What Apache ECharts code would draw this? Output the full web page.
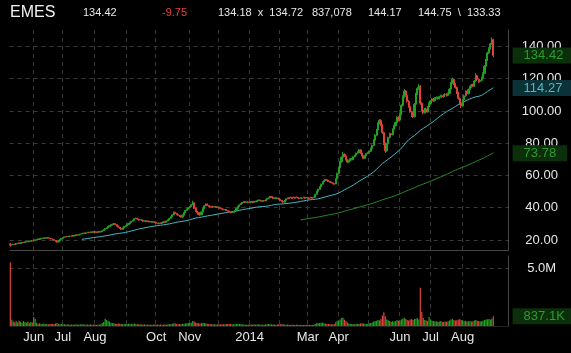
<!DOCTYPE html>
<html>
<head>
<meta charset="utf-8">
<script src="https://cdn.jsdelivr.net/npm/echarts@6/dist/echarts.min.js"></script>
<style>
  html, body { margin: 0; padding: 0; background: #000; }
  #chart { width: 571px; height: 353px; }
</style>
</head>
<body>
<div id="chart"></div>
<script>
// EMES daily bars, 2013-05-09 .. 2014-09-02 (one row per month in each array)
const opens = [
  17.6, 16.9, 17.1, 17.5, 17.3, 17.7, 18.1, 17.9, 18.2, 18.5, 18.4, 18.8, 19.1, 18.9, 19.2, 19.6,
  19.4, 19.8, 20.1, 20.5, 20.3, 20.7, 20.9, 21.0, 21.3, 21.1, 21.5, 21.2, 21.0, 20.6, 20.2, 19.8, 19.3, 18.8, 19.6, 20.4,
  21.0, 21.5, 21.9, 22.2, 22.0, 22.4, 22.3, 22.6, 22.5, 22.9, 23.2, 23.0, 23.4, 23.7, 24.0, 24.3, 24.1, 24.5, 24.8, 24.6, 25.0, 24.8,
  25.1, 25.0, 24.7, 25.2, 24.9, 25.3, 25.8, 26.4, 27.1, 27.6, 28.3, 28.9, 29.4, 29.8, 30.1, 29.5, 28.7, 27.9, 27.2, 26.6, 27.4, 28.3,
  28.9, 29.5, 30.2, 31.0, 31.6, 32.3, 33.2, 33.5, 32.9, 32.4, 32.6, 32.1, 31.6, 31.9, 31.4, 31.7, 31.2, 31.5, 31.0, 31.3,
  30.8, 30.4, 30.1, 30.6, 30.3, 30.9, 31.3, 31.0, 31.8, 32.5, 33.4, 34.4, 35.6, 37.2, 36.5, 35.8, 35.3, 34.6, 34.2, 35.4, 36.9, 38.4, 39.2,
  40.0, 40.8, 41.9, 43.0, 39.6, 37.8, 37.0, 35.9, 35.6, 37.4, 39.5, 41.2, 42.3, 41.5, 40.8, 40.4, 40.9, 40.5, 40.7, 40.2,
  40.4, 40.0, 39.5, 39.1, 38.7, 38.9, 38.2, 37.8, 37.3, 36.9, 37.2, 37.6, 38.4, 39.6, 40.8, 41.8, 42.6, 43.3, 43.8, 43.2, 43.6,
  43.1, 43.5, 43.9, 43.4, 44.0, 43.7, 44.3, 44.8, 44.4, 44.0, 44.5, 44.2, 45.0, 45.8, 46.5, 46.9, 46.3, 45.8, 46.2, 45.6, 46.0,
  45.2, 44.5, 43.8, 43.4, 44.6, 45.5, 46.1, 46.5, 46.2, 46.6, 46.3, 46.7, 46.4, 46.0, 45.7, 46.1, 46.6, 46.3, 46.2,
  46.4, 46.0, 46.5, 46.3, 46.2, 46.6, 48.3, 50.2, 51.4, 53.0, 54.6, 56.2, 56.8, 57.4, 56.9, 56.3, 55.9, 55.5, 55.0, 54.8, 57.8,
  61.3, 64.8, 68.5, 71.3, 73.2, 72.0, 69.8, 68.3, 69.2, 70.4, 69.8, 71.6, 72.5, 73.8, 74.6, 75.8, 74.0, 72.2, 70.6, 72.4, 73.6,
  74.2, 75.0, 76.8, 78.6, 81.9, 85.0, 88.2, 92.4, 94.1, 91.2, 86.5, 79.8, 75.2, 79.6, 83.5, 85.9, 85.2, 88.6, 90.9, 92.8, 96.0,
  94.3, 97.8, 103.5, 108.9, 112.4, 109.6, 106.0, 102.8, 99.5, 97.0, 96.4, 104.2, 110.5, 114.0, 115.3, 104.8, 100.6, 98.9, 101.2, 99.3, 102.4,
  104.6, 106.2, 107.4, 106.3, 107.9, 108.4, 107.6, 108.8, 109.5, 108.7, 109.9, 110.4, 109.6, 110.8, 113.5, 117.2, 119.6, 116.8, 114.5, 111.2, 107.8, 104.5,
  103.2, 107.0, 109.4, 112.0, 110.8, 113.2, 114.9, 116.1, 115.4, 118.6, 121.8, 119.6, 118.2, 119.0, 120.6, 123.3, 127.8, 131.6, 136.0, 138.7, 141.6, 144.0
];
const closes = [
  16.8, 17.1, 17.4, 17.3, 17.7, 18.0, 17.9, 18.2, 18.5, 18.4, 18.8, 19.0, 18.9, 19.2, 19.5, 19.4,
  19.8, 20.1, 20.4, 20.3, 20.7, 20.9, 21.0, 21.3, 21.1, 21.4, 21.2, 21.0, 20.6, 20.2, 19.8, 19.2, 18.7, 19.6, 20.4, 21.0,
  21.5, 21.9, 22.2, 22.0, 22.4, 22.3, 22.6, 22.5, 22.9, 23.2, 23.0, 23.4, 23.7, 24.0, 24.3, 24.1, 24.5, 24.8, 24.6, 25.0, 24.8, 25.1,
  25.0, 24.7, 25.2, 24.9, 25.3, 25.8, 26.4, 27.1, 27.6, 28.3, 28.9, 29.4, 29.8, 30.1, 29.5, 28.7, 27.9, 27.2, 26.6, 27.4, 28.3, 28.9,
  29.5, 30.2, 31.0, 31.6, 32.3, 33.2, 33.5, 32.9, 32.4, 32.6, 32.1, 31.6, 31.9, 31.4, 31.7, 31.2, 31.5, 31.0, 31.3, 30.8,
  30.4, 30.1, 30.6, 30.3, 30.9, 31.3, 31.0, 31.8, 32.5, 33.4, 34.4, 35.6, 37.2, 36.5, 35.8, 35.3, 34.6, 34.2, 35.4, 36.9, 38.4, 39.2, 40.0,
  40.8, 41.9, 43.2, 39.6, 37.8, 37.0, 35.9, 35.6, 37.4, 39.5, 41.2, 42.3, 41.5, 40.8, 40.4, 40.9, 40.5, 40.7, 40.2, 40.4,
  40.0, 39.5, 39.1, 38.7, 38.9, 38.2, 37.8, 37.3, 36.9, 37.2, 37.6, 38.4, 39.6, 40.8, 41.8, 42.6, 43.3, 43.8, 43.2, 43.6, 43.1,
  43.5, 43.9, 43.4, 44.0, 43.7, 44.3, 44.8, 44.4, 44.0, 44.5, 44.2, 45.0, 45.8, 46.5, 46.9, 46.3, 45.8, 46.2, 45.6, 46.0, 45.2,
  44.5, 43.8, 43.4, 44.6, 45.5, 46.1, 45.7, 46.2, 45.8, 46.3, 45.9, 46.4, 46.0, 45.7, 46.2, 45.8, 46.3, 45.9, 46.4,
  46.0, 45.6, 46.2, 45.9, 46.5, 48.3, 50.2, 51.4, 53.0, 54.6, 56.2, 56.8, 57.4, 56.9, 56.3, 55.9, 55.5, 55.0, 54.6, 57.8, 61.3,
  64.8, 68.5, 71.3, 73.2, 72.0, 69.8, 68.3, 69.2, 70.4, 69.8, 71.6, 72.5, 73.8, 74.6, 75.8, 74.0, 72.2, 70.6, 72.4, 73.6, 74.2,
  75.0, 76.8, 78.6, 81.9, 85.0, 88.2, 92.4, 94.1, 91.2, 86.5, 79.8, 75.2, 79.6, 83.5, 85.9, 85.2, 88.6, 90.9, 92.8, 96.0, 94.3,
  97.8, 103.5, 108.9, 112.4, 109.6, 106.0, 102.8, 99.5, 97.0, 96.4, 104.2, 110.5, 114.0, 115.3, 104.8, 100.6, 98.9, 101.2, 99.3, 102.4, 104.6,
  106.2, 107.4, 106.3, 107.9, 108.4, 107.6, 108.8, 109.5, 108.7, 109.9, 110.4, 109.6, 110.8, 113.5, 117.2, 119.6, 116.8, 114.5, 111.2, 107.8, 104.5, 103.2,
  107.0, 109.4, 112.0, 110.8, 113.2, 114.9, 116.1, 115.4, 118.6, 121.8, 119.6, 118.2, 119.0, 120.6, 123.3, 127.8, 131.6, 136.0, 138.7, 141.6, 144.17, 134.42
];
const lows = [
  15.9, 16.7, 16.9, 17.1, 17.1, 17.5, 17.7, 17.7, 18.0, 18.2, 18.2, 18.6, 18.7, 18.7, 19.0, 19.1,
  19.2, 19.6, 19.9, 20.1, 20.1, 20.5, 20.7, 20.8, 20.9, 20.9, 21.0, 20.8, 20.4, 20.0, 19.6, 18.9, 18.3, 18.6, 19.4, 20.2,
  20.9, 21.3, 21.7, 21.8, 21.9, 22.1, 22.2, 22.3, 22.4, 22.8, 22.8, 22.9, 23.3, 23.6, 23.9, 23.9, 24.0, 24.4, 24.4, 24.5, 24.6, 24.7,
  24.7, 24.4, 24.5, 24.7, 24.7, 25.1, 25.6, 26.2, 26.9, 27.4, 28.0, 28.6, 29.1, 29.5, 29.2, 28.4, 27.6, 26.9, 26.2, 26.4, 27.2, 28.0,
  28.7, 29.3, 30.0, 30.8, 31.4, 32.1, 32.9, 32.6, 32.1, 32.2, 31.8, 31.3, 31.4, 31.1, 31.2, 31.0, 31.0, 30.8, 30.8, 30.5,
  30.1, 29.8, 29.9, 30.0, 30.1, 30.7, 30.7, 30.8, 31.6, 32.3, 33.2, 34.2, 35.4, 36.2, 35.5, 35.0, 34.3, 33.9, 34.0, 35.2, 36.7, 38.1, 38.9,
  39.8, 40.5, 41.6, 39.2, 37.4, 36.6, 35.6, 35.0, 35.4, 37.2, 39.3, 40.9, 41.2, 40.5, 40.1, 40.2, 40.2, 40.3, 40.0, 40.0,
  39.8, 39.3, 38.9, 38.5, 38.5, 38.0, 37.6, 37.1, 36.6, 36.7, 37.0, 37.4, 38.2, 39.4, 40.6, 41.6, 42.4, 43.0, 42.9, 43.0, 42.9,
  42.9, 43.3, 43.2, 43.2, 43.5, 43.5, 44.1, 44.2, 43.8, 43.8, 44.0, 44.0, 44.8, 45.6, 46.3, 46.1, 45.6, 45.6, 45.4, 45.4, 45.0,
  44.3, 43.6, 43.1, 43.3, 44.4, 45.3, 45.5, 46.0, 45.6, 46.1, 45.7, 46.2, 45.8, 45.5, 45.5, 45.6, 46.1, 45.7, 46.0,
  45.8, 45.3, 45.9, 45.6, 46.0, 46.4, 48.0, 49.9, 51.1, 52.7, 54.3, 55.8, 56.5, 56.6, 56.0, 55.6, 55.2, 54.7, 54.2, 54.6, 57.5,
  60.9, 64.3, 67.9, 70.8, 71.5, 69.3, 67.6, 67.9, 68.8, 69.3, 69.5, 71.2, 72.1, 73.3, 74.2, 73.6, 71.8, 70.1, 70.3, 72.0, 73.2,
  73.6, 74.5, 76.3, 78.2, 81.4, 84.4, 87.8, 91.6, 90.5, 85.8, 78.9, 74.0, 74.8, 79.0, 83.0, 84.5, 84.8, 88.0, 90.3, 92.3, 93.6,
  93.8, 97.2, 102.8, 108.2, 108.8, 105.2, 102.0, 98.8, 96.2, 95.6, 96.0, 103.5, 109.8, 113.2, 103.8, 99.8, 98.0, 98.4, 98.6, 99.0, 102.0,
  104.0, 105.6, 105.7, 105.9, 107.3, 107.0, 107.2, 108.3, 108.1, 108.4, 109.4, 109.0, 109.2, 110.4, 113.0, 116.7, 116.0, 113.8, 110.5, 107.0, 103.7, 101.8,
  102.6, 106.3, 108.8, 110.1, 110.3, 112.6, 114.3, 114.8, 115.0, 118.0, 119.0, 117.5, 117.7, 118.5, 120.0, 122.8, 127.2, 131.0, 135.3, 138.0, 141.0, 133.33
];
const highs = [
  18.0, 17.3, 17.6, 17.7, 17.9, 18.2, 18.3, 18.4, 18.7, 18.7, 19.0, 19.2, 19.3, 19.4, 19.7, 19.8,
  20.0, 20.3, 20.6, 20.7, 20.9, 21.1, 21.3, 21.6, 21.5, 21.6, 21.7, 21.4, 21.2, 20.8, 20.4, 20.0, 19.5, 19.8, 20.6, 21.2,
  21.7, 22.1, 22.4, 22.3, 22.6, 22.6, 22.8, 22.8, 23.1, 23.4, 23.3, 23.6, 23.9, 24.2, 24.5, 24.5, 24.7, 25.0, 25.0, 25.2, 25.1, 25.3,
  25.4, 25.2, 25.4, 25.4, 25.5, 26.0, 26.7, 27.4, 27.9, 28.6, 29.2, 29.7, 30.1, 30.5, 30.4, 29.7, 28.9, 28.1, 27.4, 27.7, 28.6, 29.2,
  29.7, 30.4, 31.3, 31.8, 32.5, 33.5, 33.9, 33.7, 33.1, 32.8, 32.8, 32.3, 32.1, 32.0, 31.9, 31.9, 31.7, 31.7, 31.5, 31.5,
  31.0, 30.6, 30.8, 30.8, 31.1, 31.5, 31.5, 32.0, 32.7, 33.7, 34.6, 35.9, 37.6, 37.5, 36.8, 36.1, 35.5, 34.9, 35.7, 37.1, 38.7, 39.5, 40.3,
  41.0, 42.2, 44.4, 43.2, 39.9, 38.1, 37.2, 36.2, 37.6, 39.7, 41.4, 42.6, 42.5, 41.7, 41.0, 41.1, 41.1, 40.9, 40.9, 40.6,
  40.6, 40.2, 39.7, 39.3, 39.1, 39.1, 38.4, 38.0, 37.5, 37.4, 37.8, 38.6, 39.8, 41.0, 42.0, 42.8, 43.5, 44.0, 44.0, 43.8, 43.8,
  43.7, 44.1, 44.1, 44.2, 44.2, 44.5, 45.0, 45.0, 44.6, 44.7, 44.7, 45.2, 46.0, 46.7, 47.2, 47.1, 46.5, 46.4, 46.4, 46.2, 46.2,
  45.4, 44.7, 44.0, 44.8, 45.7, 46.3, 46.3, 46.7, 46.4, 46.8, 46.5, 46.9, 46.6, 46.2, 46.4, 46.3, 46.8, 46.5, 46.6,
  46.6, 46.2, 46.8, 46.5, 46.8, 48.6, 50.5, 51.8, 53.3, 54.9, 56.5, 57.2, 57.8, 57.7, 57.2, 56.6, 56.2, 55.8, 55.3, 58.2, 61.8,
  65.3, 69.0, 71.8, 74.6, 73.7, 72.4, 70.2, 69.7, 70.9, 70.8, 72.0, 72.9, 74.2, 75.1, 76.4, 76.2, 74.4, 72.6, 72.8, 74.0, 74.7,
  75.5, 77.3, 79.2, 82.5, 85.6, 88.9, 93.0, 95.0, 94.8, 91.8, 87.2, 80.5, 80.2, 84.1, 86.6, 86.4, 89.2, 91.5, 93.4, 96.7, 96.8,
  98.5, 104.2, 109.6, 113.6, 113.0, 110.4, 106.7, 103.5, 100.2, 97.8, 105.0, 111.2, 114.8, 116.6, 116.0, 105.5, 101.4, 101.9, 102.0, 103.1, 105.3,
  106.8, 108.0, 108.0, 108.5, 109.0, 108.9, 109.4, 110.1, 110.0, 110.4, 111.0, 110.9, 111.4, 114.1, 117.9, 120.6, 120.0, 117.4, 115.2, 111.9, 108.4, 105.4,
  107.6, 110.1, 112.7, 112.6, 113.9, 115.6, 116.8, 116.8, 119.2, 123.4, 122.4, 120.2, 119.7, 121.3, 124.0, 128.5, 132.3, 136.7, 139.4, 142.3, 145.6, 144.75
];
// volume in thousands of shares
const volumesK = [
  5500, 560, 380, 330, 420, 300, 450, 360, 280, 420, 330, 300, 380, 260, 340, 300,
  780, 620, 280, 200, 230, 180, 160, 200, 150, 170, 140, 160, 190, 180, 150, 220, 260, 180, 140, 170,
  160, 150, 130, 120, 140, 110, 130, 100, 120, 140, 110, 130, 120, 150, 140, 110, 130, 120, 100, 140, 110, 120,
  120, 100, 110, 130, 160, 250, 350, 620, 520, 430, 380, 280, 250, 240, 200, 180, 210, 190, 170, 150, 180, 160,
  170, 200, 180, 190, 160, 210, 180, 150, 140, 160, 130, 120, 140, 110, 120, 130, 100, 110, 120, 130,
  110, 120, 100, 130, 110, 120, 140, 110, 150, 160, 180, 200, 230, 210, 180, 160, 170, 150, 190, 200, 220, 240, 250,
  260, 280, 420, 380, 300, 260, 240, 220, 250, 270, 260, 230, 190, 170, 150, 160, 140, 150, 130, 140,
  140, 130, 150, 160, 130, 170, 180, 160, 200, 150, 140, 160, 180, 190, 170, 160, 150, 120, 110, 100, 120,
  120, 130, 110, 140, 120, 130, 150, 120, 110, 130, 100, 140, 160, 170, 150, 140, 120, 130, 110, 120, 140,
  150, 160, 140, 120, 110, 130, 100, 90, 110, 100, 90, 100, 110, 90, 100, 80, 90, 100, 110,
  110, 100, 90, 100, 110, 180, 250, 230, 260, 280, 300, 240, 200, 180, 170, 150, 160, 140, 150, 320, 450,
  450, 560, 700, 720, 550, 420, 300, 220, 190, 170, 180, 160, 170, 180, 200, 220, 240, 210, 190, 180, 200,
  230, 260, 300, 380, 420, 450, 520, 480, 600, 900, 1180, 850, 560, 500, 420, 350, 400, 380, 420, 520, 450,
  480, 560, 650, 720, 600, 520, 480, 560, 600, 520, 600, 620, 680, 560, 3300, 1200, 700, 520, 480, 420, 780,
  560, 450, 420, 380, 400, 350, 380, 420, 360, 340, 380, 360, 400, 480, 560, 620, 520, 480, 500, 540, 600, 520,
  480, 420, 450, 380, 400, 420, 380, 400, 480, 520, 450, 420, 380, 400, 450, 520, 560, 580, 600, 560, 620, 837.078
];

const firstDay = '2013-05-09';
const holidays = ['2013-05-27', '2013-07-04', '2013-09-02', '2013-11-28', '2013-12-25', '2014-01-01',
  '2014-01-20', '2014-02-17', '2014-04-18', '2014-05-26', '2014-07-04', '2014-09-01'];
// one label per month start Jun 2013 .. Aug 2014, '' where the platform dropped it
const monthLabels = ['Jun', 'Jul', 'Aug', '', 'Oct', 'Nov', '', '2014', '', 'Mar', 'Apr', '', 'Jun', 'Jul', 'Aug'];
const priceTicks = [20, 40, 60, 80, 100, 120, 140];
const volumeTicks = [5000000];
const headerTexts = ['EMES', '134.42', '-9.75', '134.18  x  134.72', '837,078', '144.17', '144.75  \\  133.33'];
const lastClose = 134.42;
const lastMa50 = 114.27;
const lastMa200 = 73.78;
const lastVolume = 837078;

// trading-day calendar for the category axis
const dates = [];
const d = new Date(firstDay + 'T00:00:00Z');
while (dates.length < closes.length) {
  const iso = d.toISOString().slice(0, 10);
  const wd = d.getUTCDay();
  if (wd !== 0 && wd !== 6 && !holidays.includes(iso)) dates.push(iso);
  d.setUTCDate(d.getUTCDate() + 1);
}
const categories = dates.concat(new Array(10).fill(''));

const monthStarts = [];
for (let i = 1; i < dates.length && monthStarts.length < monthLabels.length; i++) {
  if (dates[i].slice(0, 7) !== dates[i - 1].slice(0, 7)) monthStarts.push(i);
}
const labelAt = {};
monthStarts.forEach((idx, k) => { labelAt[idx] = monthLabels[k]; });

function movingAverage(values, n) {
  return values.map((_, i) => {
    if (i < n - 1) return '-';
    let sum = 0;
    for (let j = i - n + 1; j <= i; j++) sum += values[j];
    return +(sum / n).toFixed(2);
  });
}

const GREEN = '#22a022';
const RED = '#e0413a';
const FONT = '"Liberation Sans", Arial, sans-serif';
const GRID_LINE = { color: '#383838', type: [4, 4], width: 1 };
const AXIS_LINE = { color: '#454545', width: 1 };

const candleData = closes.map((c, i) => [opens[i], c, lows[i], highs[i]]);
const volumeData = volumesK.map((v, i) => ({
  value: v * 1000,
  itemStyle: { color: closes[i] >= opens[i] ? GREEN : RED }
}));
const ma50 = movingAverage(closes, 50);
const ma200 = movingAverage(closes, 200);

function valueBox(value, text, color, bg) {
  return {
    silent: true,
    symbol: 'none',
    lineStyle: { color: 'rgba(0,0,0,0)', width: 1 },
    label: {
      show: true,
      position: 'end',
      distance: 4,
      formatter: text,
      color: color,
      backgroundColor: bg,
      fontFamily: FONT,
      fontSize: 13,
      padding: [2, 11, 1, 11]
    },
    emphasis: { disabled: true },
    data: [{ yAxis: value }]
  };
}

const headerX = [10, 83, 162, 218, 312, 368, 418];
const headerStyle = [
  { fontSize: 16, fill: '#f2f2f2' },
  { fontSize: 11, fill: '#e8e8e8' },
  { fontSize: 11, fill: '#e8403c' },
  { fontSize: 11, fill: '#e8e8e8' },
  { fontSize: 11, fill: '#e8e8e8' },
  { fontSize: 11, fill: '#e8e8e8' },
  { fontSize: 11, fill: '#e8e8e8' }
];

const chart = echarts.init(document.getElementById('chart'), null, { renderer: 'canvas' });

chart.setOption({
  backgroundColor: '#000',
  animation: false,
  textStyle: { fontFamily: FONT },
  graphic: headerTexts.map((t, i) => ({
    type: 'text',
    x: headerX[i],
    y: 13,
    silent: true,
    style: {
      text: t,
      fill: headerStyle[i].fill,
      font: headerStyle[i].fontSize + 'px ' + FONT,
      textVerticalAlign: 'middle'
    }
  })),
  grid: [
    { left: 9.6, width: 499, top: 30, height: 220, containLabel: false, outerBoundsMode: 'none' },
    { left: 9.6, width: 499, top: 256, height: 70, containLabel: false, outerBoundsMode: 'none' }
  ],
  xAxis: [
    {
      type: 'category',
      gridIndex: 0,
      data: categories,
      boundaryGap: true,
      axisLine: { show: true, lineStyle: AXIS_LINE },
      axisTick: { show: false },
      axisLabel: { show: false },
      splitLine: { show: true, interval: (i) => labelAt[i] !== undefined, lineStyle: GRID_LINE }
    },
    {
      type: 'category',
      gridIndex: 1,
      data: categories,
      boundaryGap: true,
      axisLine: { show: true, lineStyle: { color: '#222', width: 1 } },
      axisTick: { show: false },
      axisLabel: {
        interval: (i) => !!labelAt[i],
        formatter: (v, i) => labelAt[i] || '',
        color: '#e6e6e6',
        fontFamily: FONT,
        fontSize: 13,
        margin: 5,
        hideOverlap: false
      },
      splitLine: { show: true, interval: (i) => labelAt[i] !== undefined, lineStyle: GRID_LINE }
    }
  ],
  yAxis: [
    {
      type: 'value',
      gridIndex: 0,
      position: 'right',
      min: 13.8,
      max: 150.2,
      axisLine: { show: true, lineStyle: AXIS_LINE },
      axisTick: { show: false, customValues: priceTicks },
      axisLabel: {
        customValues: priceTicks,
        formatter: (v) => v.toFixed(2),
        align: 'center',
        margin: 33,
        color: '#e6e6e6',
        fontFamily: FONT,
        fontSize: 13
      },
      splitLine: { show: true, lineStyle: GRID_LINE }
    },
    {
      type: 'value',
      gridIndex: 1,
      position: 'right',
      min: 0,
      max: 6030000,
      axisLine: { show: true, lineStyle: AXIS_LINE },
      axisTick: { show: false, customValues: volumeTicks },
      axisLabel: {
        customValues: volumeTicks,
        formatter: (v) => (v / 1e6).toFixed(1) + 'M',
        align: 'center',
        margin: 33,
        color: '#e6e6e6',
        fontFamily: FONT,
        fontSize: 13
      },
      splitLine: { show: true, lineStyle: GRID_LINE }
    }
  ],
  series: [
    {
      name: 'MA200',
      type: 'line',
      xAxisIndex: 0,
      yAxisIndex: 0,
      data: ma200,
      symbol: 'none',
      lineStyle: { color: '#2a862a', width: 1 },
      silent: true,
      z: 3,
      markLine: valueBox(lastMa200, lastMa200.toFixed(2), '#2f9a2f', '#0b2e0b')
    },
    {
      name: 'MA50',
      type: 'line',
      xAxisIndex: 0,
      yAxisIndex: 0,
      data: ma50,
      symbol: 'none',
      lineStyle: { color: '#45b8c6', width: 1 },
      silent: true,
      z: 3,
      markLine: valueBox(lastMa50, lastMa50.toFixed(2), '#4fb8c4', '#0b3236')
    },
    {
      name: 'EMES',
      type: 'candlestick',
      xAxisIndex: 0,
      yAxisIndex: 0,
      data: candleData,
      barWidth: 1.6,
      silent: true,
      z: 4,
      itemStyle: { color: GREEN, color0: RED, borderColor: GREEN, borderColor0: RED, borderWidth: 1 },
      markLine: valueBox(lastClose, lastClose.toFixed(2), '#2f9a2f', '#0b2e0b')
    },
    {
      name: 'Volume',
      type: 'bar',
      xAxisIndex: 1,
      yAxisIndex: 1,
      data: volumeData,
      barWidth: 1.2,
      silent: true,
      markLine: valueBox(lastVolume, (lastVolume / 1000).toFixed(1) + 'K', '#2f9a2f', '#0b2e0b')
    }
  ]
});
</script>
</body>
</html>
